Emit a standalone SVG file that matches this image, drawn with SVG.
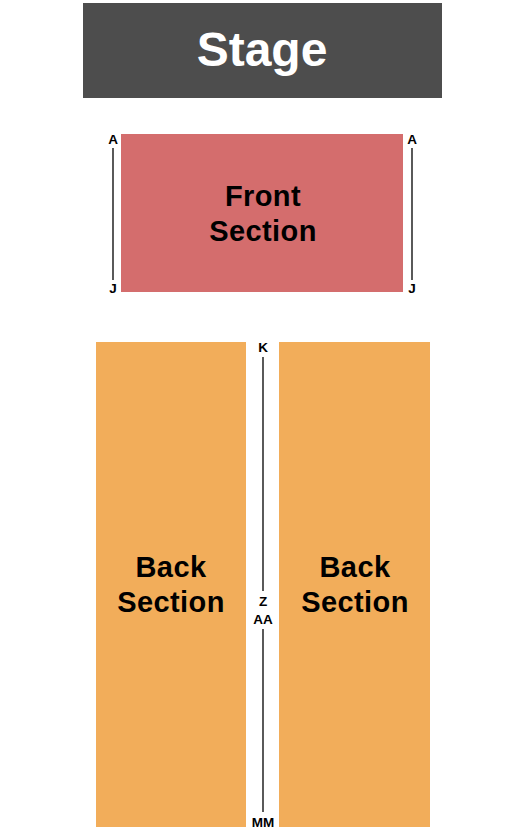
<svg xmlns="http://www.w3.org/2000/svg" width="525" height="830" viewBox="0 0 525 830">
<style>
.lbl{font-family:"Liberation Sans",Arial,sans-serif;font-weight:bold;text-anchor:middle;fill:#000}
.row{font-family:"Liberation Sans",Arial,sans-serif;font-weight:bold;text-anchor:middle;font-size:13.5px;fill:#000}
.sec{font-size:29px;letter-spacing:0.4px}
.ln{stroke:#000;stroke-width:1.3;fill:none}
</style>
<rect width="525" height="830" fill="#fff"/>
<g id="stage">
<rect x="83" y="3" width="359" height="95" fill="#4d4d4d"/>
<text class="lbl" x="262" y="66" font-size="48" style="fill:#fff">Stage</text>
</g>
<g id="front-section">
<rect x="121" y="134" width="282" height="158" fill="#d46d6d"/>
<text class="lbl sec" x="263" y="206">Front</text>
<text class="lbl sec" x="263" y="241">Section</text>
</g>
<g id="back-section-left">
<rect x="96" y="342" width="150" height="485" fill="#f2ad5a"/>
<text class="lbl sec" x="171" y="577">Back</text>
<text class="lbl sec" x="171" y="612">Section</text>
</g>
<g id="back-section-right">
<rect x="279" y="342" width="151" height="485" fill="#f2ad5a"/>
<text class="lbl sec" x="355" y="577">Back</text>
<text class="lbl sec" x="355" y="612">Section</text>
</g>
<g id="row-markers">
<line class="ln" x1="113" y1="148" x2="113" y2="280"/>
<line class="ln" x1="412" y1="148" x2="412" y2="280"/>
<line class="ln" x1="263" y1="357" x2="263" y2="591"/>
<line class="ln" x1="263" y1="629" x2="263" y2="812"/>
</g>
<g id="row-labels">
<text class="row" x="113" y="144">A</text>
<text class="row" x="113" y="293">J</text>
<text class="row" x="412" y="144">A</text>
<text class="row" x="412" y="293">J</text>
<text class="row" x="263" y="352">K</text>
<text class="row" x="263" y="606">Z</text>
<text class="row" x="263" y="624">AA</text>
<text class="row" x="263" y="827">MM</text>
</g>
</svg>
